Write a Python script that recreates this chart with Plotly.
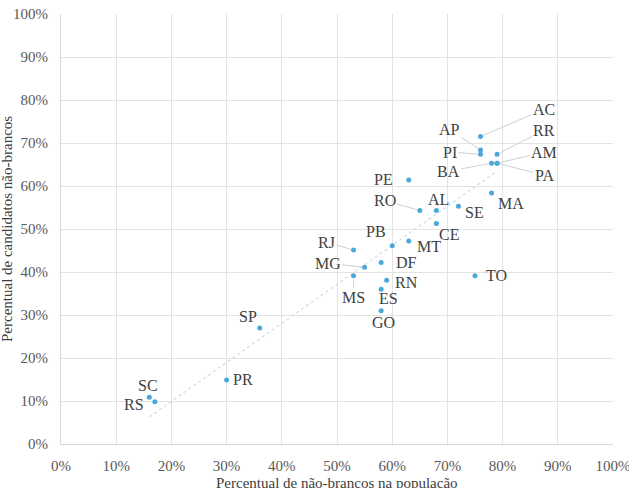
import numpy as np
import plotly.graph_objects as go

states = ["AC", "AP", "PI", "RR", "BA", "AM", "PA", "MA", "PE", "RO", "AL", "SE", "CE",
          "PB", "MT", "RJ", "DF", "MG", "MS", "RN", "ES", "GO", "TO", "SP", "PR", "SC", "RS"]
pop_nonwhite = [76, 76, 76, 79, 78, 79, 79, 78, 63, 65, 68, 72, 68,
                60, 63, 53, 58, 55, 53, 59, 58, 58, 75, 36, 30, 16, 17]
cand_nonwhite = [71.5, 68.4, 67.4, 67.4, 65.3, 65.3, 65.3, 58.4, 61.4, 54.3, 54.3, 55.3, 51.3,
                 46.1, 47.2, 45.1, 42.2, 41.1, 39.1, 38.1, 36.0, 31.0, 39.1, 27.0, 14.9, 10.9, 9.8]

xticks = list(range(0, 101, 10))
yticks = list(range(0, 101, 10))
tick_text = [f"{v}%" for v in xticks]

# label placement (pixel offsets from point; leader = draw connecting line)
label_style = {
    "AC": (63, -27, True), "AP": (-31, -20, True), "PI": (-31, -2, True),
    "RR": (47, -24, True), "BA": (-43, 8, True), "AM": (47, -11, True),
    "PA": (47, 12, True), "MA": (19, 11, False), "PE": (-25, 0, False),
    "RO": (-35, -10, True), "AL": (2, -11, False), "SE": (16, 6, False),
    "CE": (13, 11, False), "PB": (-16, -14, False), "MT": (20, 5, False),
    "RJ": (-27, -8, True), "DF": (25, 0, False), "MG": (-37, -4, True),
    "MS": (0, 22, True), "RN": (20, 2, False), "ES": (7, 9, False),
    "GO": (2, 12, False), "TO": (21, 0, False), "SP": (-12, -11, False),
    "PR": (16, 0, False), "SC": (-1, -12, False), "RS": (-21, 3, False),
}

font_family = "Times New Roman"

fig = go.Figure()

# linear trendline
coef = np.polyfit(pop_nonwhite, cand_nonwhite, 1)
tx = np.array([min(pop_nonwhite), max(pop_nonwhite)])
fig.add_trace(go.Scatter(x=tx, y=np.polyval(coef, tx), mode="lines",
                         line=dict(color="#c6e0ea", width=1.2, dash="dot"),
                         hoverinfo="skip", showlegend=False))

fig.add_trace(go.Scatter(x=pop_nonwhite, y=cand_nonwhite, mode="markers",
                         marker=dict(color="#4aa8d8", size=5),
                         text=states, showlegend=False))

for s, xv, yv in zip(states, pop_nonwhite, cand_nonwhite):
    dx, dy, leader = label_style[s]
    if leader:
        fig.add_annotation(x=xv, y=yv, text=s, showarrow=True, ax=dx, ay=dy,
                           arrowhead=0, arrowwidth=1, arrowcolor="#d0d0d0",
                           standoff=3, font=dict(family=font_family, size=16, color="#404040"))
    else:
        fig.add_annotation(x=xv, y=yv, text=s, showarrow=False, xshift=dx, yshift=-dy,
                           font=dict(family=font_family, size=16, color="#404040"))

fig.add_annotation(xref="paper", yref="paper", x=0.5, y=0, yshift=-39,
                   xanchor="center", yanchor="middle",
                   text="Percentual de não-brancos na população", showarrow=False,
                   font=dict(family=font_family, size=15, color="#404040"))
fig.add_annotation(xref="paper", yref="paper", x=0, y=0.5, xshift=-54, textangle=-90,
                   xanchor="center", yanchor="middle",
                   text="Percentual de candidatos não-brancos", showarrow=False,
                   font=dict(family=font_family, size=15, color="#404040"))

fig.update_layout(
    width=629, height=488,
    margin=dict(l=61, r=16, t=14, b=44, autoexpand=False),
    paper_bgcolor="white", plot_bgcolor="white",
    font=dict(family=font_family, size=15, color="#595959"),
)
fig.update_xaxes(range=[0, 100], tickvals=xticks, ticktext=tick_text,
                 showgrid=True, gridcolor="#e3e3e3", gridwidth=1,
                 showline=True, linecolor="#d9d9d9", zeroline=False,
                 ticks="", ticklabelstandoff=8, ticklabeloverflow="allow", fixedrange=True)
fig.update_yaxes(range=[0, 100], tickvals=yticks, ticktext=[f"{v}%" for v in yticks],
                 showgrid=True, gridcolor="#e3e3e3", gridwidth=1,
                 showline=True, linecolor="#d9d9d9", zeroline=False,
                 ticks="", ticklabelstandoff=9, ticklabeloverflow="allow", fixedrange=True)

fig.write_html("out.html")
